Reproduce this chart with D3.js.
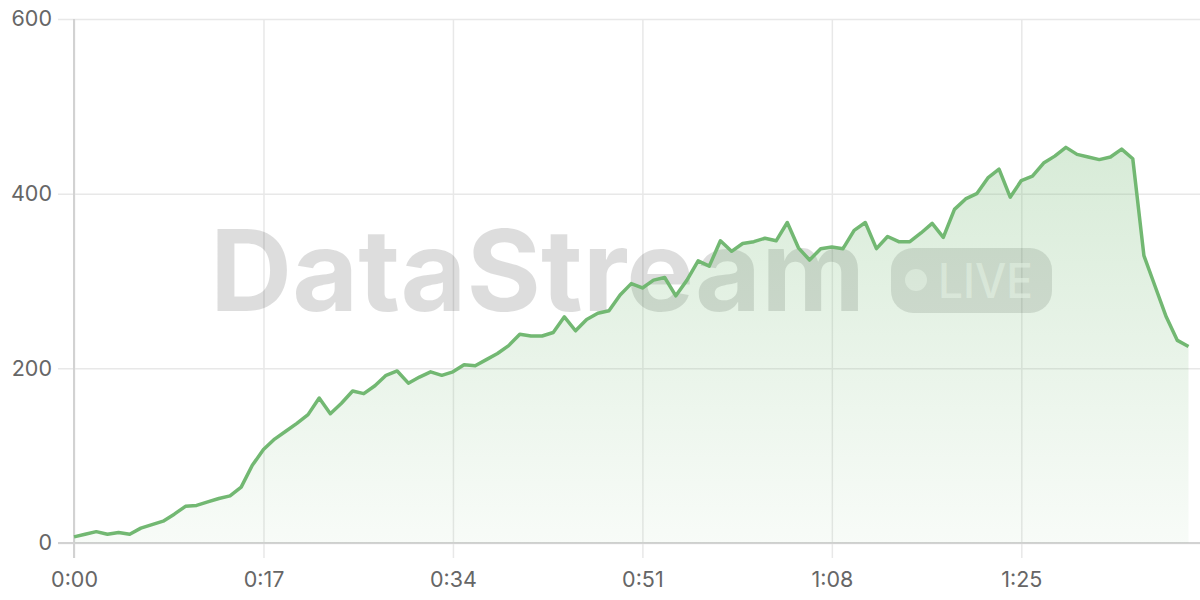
<!DOCTYPE html>
<html lang="en">
<head>
<meta charset="UTF-8"/>
<title>DataStream live</title>
<script src="https://d3js.org/d3.v7.min.js"></script>
<style>
  html, body { margin: 0; padding: 0; background: #fff; }
  svg { display: block; font-family: Inter, "Noto Sans", sans-serif; }
  .grid line { stroke: #e8e8e8; stroke-width: 1.5px; }
  .grid path { display: none; }
  .axis { font-family: Inter, "Noto Sans", sans-serif; }
  .axis text { fill: #666; font-size: 21.5px; }
  .axis path, .axis line { display: none; }
  .base { stroke: #d2d2d2; stroke-width: 2px; }
  .line { fill: none; stroke: #72b872; stroke-width: 3.5px; stroke-linejoin: round; }
  .watermark { fill: rgba(0,0,0,0.135); font-weight: 700; }
</style>
</head>
<body>
<div id="chart"></div>
<script>
  var w = 1200, h = 600;
  var margin = { top: 19, right: 12, bottom: 57, left: 74 };

  // one sample per second, 0:00 .. 1:40
  var seconds = d3.range(0, 101);
  var values = [
    7, 10, 13, 10, 12, 10, 17, 21, 25, 33,
    42, 43, 47, 51, 54, 64, 89, 107, 119, 128,
    137, 147, 166, 148, 160, 174, 171, 180, 192, 197,
    183, 190, 196, 192, 196, 204, 203, 210, 217, 226,
    239, 237, 237, 241, 259, 243, 256, 263, 266, 284,
    297, 292, 301, 304, 283, 301, 323, 317, 346, 334,
    343, 345, 349, 346, 367, 338, 324, 337, 339, 337,
    358, 367, 337, 351, 345, 345, 355, 366, 350, 382,
    394, 400, 418, 428, 396, 415, 420, 435, 443, 453,
    445, 442, 439, 442, 451, 440, 329, 294, 259, 232,
    225
  ];
  var xTicks = [0, 17, 34, 51, 68, 85];
  var yTicks = [0, 200, 400, 600];

  var data = seconds.map(function(s, i) { return { t: s, v: values[i] }; });

  var xScale = d3.scaleLinear()
    .domain([0, 100])
    .range([margin.left, 1188.5]);

  var yScale = d3.scaleLinear()
    .domain([0, 600])
    .range([h - margin.bottom, margin.top]);

  var fmt = function(s) { return Math.floor(s / 60) + ":" + d3.format("02d")(s % 60); };

  var svg = d3.select("#chart").append("svg")
    .attr("width", w)
    .attr("height", h);

  var grad = svg.append("defs").append("linearGradient")
    .attr("id", "fillGrad")
    .attr("x1", 0).attr("y1", 0).attr("x2", 0).attr("y2", 1);
  grad.append("stop").attr("offset", "0%").attr("stop-color", "#72b872").attr("stop-opacity", 0.28);
  grad.append("stop").attr("offset", "100%").attr("stop-color", "#72b872").attr("stop-opacity", 0.05);

  // grid
  svg.append("g")
    .attr("class", "grid")
    .attr("transform", "translate(0," + (yScale(0) + 15) + ")")
    .call(d3.axisBottom(xScale).tickValues(xTicks).tickSize(-(yScale(0) + 15 - yScale(600))).tickFormat(""));
  svg.append("g")
    .attr("class", "grid")
    .attr("transform", "translate(" + w + ",0)")
    .call(d3.axisLeft(yScale).tickValues(yTicks).tickSize(w - 58).tickFormat(""));

  svg.append("line").attr("class", "base")
    .attr("x1", xScale(0)).attr("x2", xScale(0))
    .attr("y1", yScale(600)).attr("y2", yScale(0) + 15);
  svg.append("line").attr("class", "base")
    .attr("x1", 58).attr("x2", w)
    .attr("y1", yScale(0)).attr("y2", yScale(0));

  // watermark
  var wm = svg.append("g");
  wm.append("text")
    .attr("class", "watermark")
    .attr("x", 210)
    .attr("y", 311)
    .attr("font-size", 113)
    .attr("textLength", 655)
    .attr("lengthAdjust", "spacingAndGlyphs")
    .text("DataStream");
  wm.append("rect")
    .attr("x", 891).attr("y", 248)
    .attr("width", 161).attr("height", 65)
    .attr("rx", 22)
    .attr("fill", "rgba(0,0,0,0.12)");
  wm.append("circle")
    .attr("cx", 916).attr("cy", 280).attr("r", 11)
    .attr("fill", "rgba(255,255,255,0.6)");
  wm.append("text")
    .attr("x", 938).attr("y", 297.5)
    .attr("font-size", 48)
    .attr("font-weight", 500)
    .attr("fill", "rgba(255,255,255,0.6)")
    .attr("textLength", 95)
    .attr("lengthAdjust", "spacingAndGlyphs")
    .text("LIVE");

  // area + line
  var area = d3.area()
    .x(function(d) { return xScale(d.t); })
    .y0(yScale(0))
    .y1(function(d) { return yScale(d.v); });

  var line = d3.line()
    .x(function(d) { return xScale(d.t); })
    .y(function(d) { return yScale(d.v); });

  svg.append("path")
    .datum(data)
    .attr("d", area)
    .attr("fill", "url(#fillGrad)");

  svg.append("path")
    .datum(data)
    .attr("class", "line")
    .attr("d", line);

  // axis labels
  svg.append("g")
    .attr("class", "axis")
    .attr("transform", "translate(0," + (yScale(0) + 14) + ")")
    .call(d3.axisBottom(xScale).tickValues(xTicks).tickSize(0).tickPadding(15).tickFormat(fmt));

  svg.append("g")
    .attr("class", "axis")
    .attr("transform", "translate(" + 52 + ",0)")
    .call(d3.axisLeft(yScale).tickValues(yTicks).tickSize(0).tickPadding(0));

  svg.selectAll(".axis").attr("font-family", null).attr("font-size", null);
</script>
</body>
</html>
